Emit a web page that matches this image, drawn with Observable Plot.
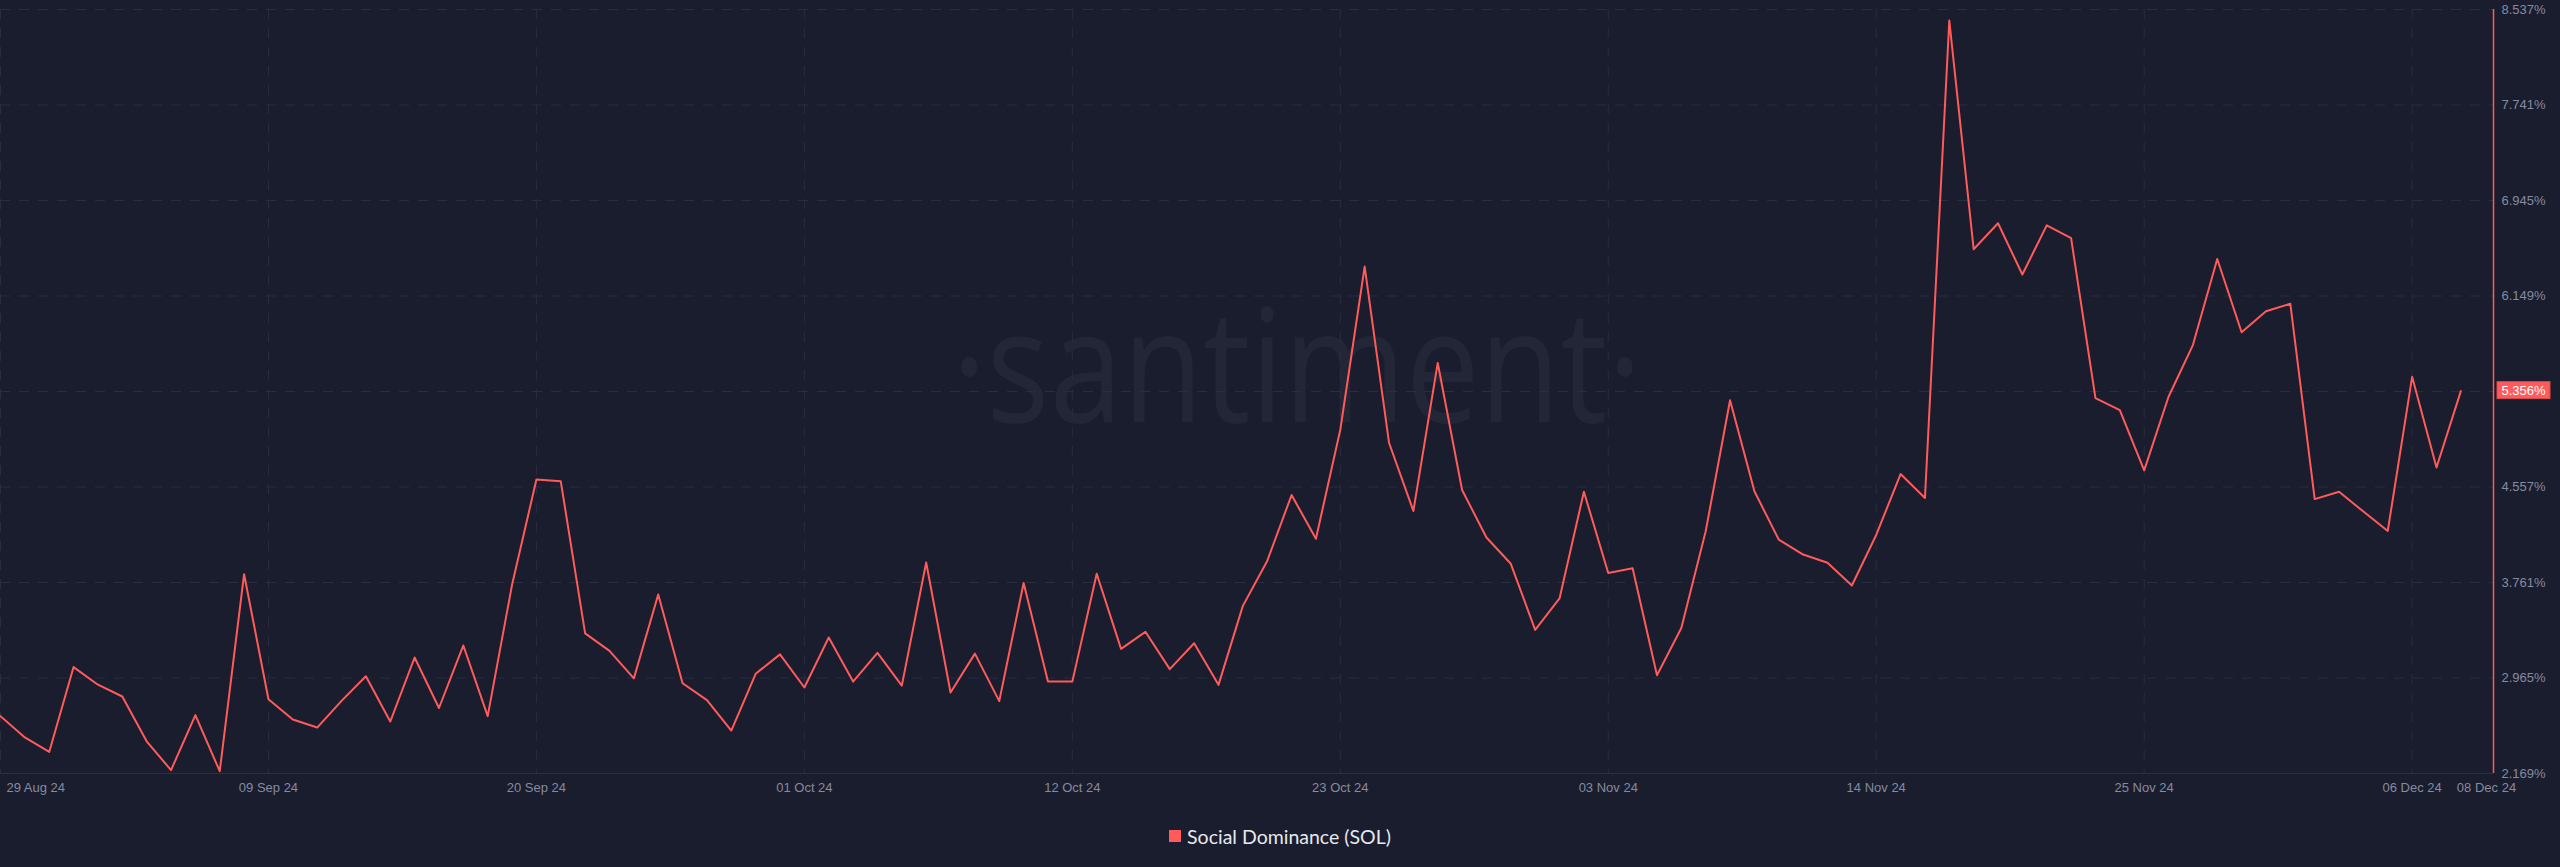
<!DOCTYPE html>
<html>
<head>
<meta charset="utf-8">
<script src="https://cdn.jsdelivr.net/npm/d3@7"></script>
<script src="https://cdn.jsdelivr.net/npm/@observablehq/plot@0.6"></script>
<style>
  html, body { margin: 0; padding: 0; background: #1a1d2d; }
  #chart { width: 2560px; height: 805px; }
  #legend { width: 2560px; height: 62px; display: flex; align-items: center; justify-content: center; gap: 6px;
            font-family: Lato, "Open Sans", sans-serif; font-size: 19.5px; color: #e6e8ef; }
  #legend .sw { width: 12px; height: 12px; background: #ff5b5b; }
</style>
</head>
<body>
<div id="chart"></div>
<div id="legend"><span class="sw"></span><span id="legend-text"></span></div>
<script>
// ---- data ----
const startDate = "2024-08-29";
const values = [
  2.647, 2.470, 2.349, 3.056, 2.909, 2.811, 2.437, 2.197, 2.656, 2.188,
  3.830, 2.788, 2.619, 2.552, 2.774, 2.980, 2.602, 3.136, 2.715, 3.236,
  2.647, 3.742, 4.619, 4.604, 3.337, 3.191, 2.962, 3.661, 2.921, 2.780,
  2.527, 3.000, 3.162, 2.886, 3.303, 2.935, 3.174, 2.901, 3.928, 2.844,
  3.168, 2.772, 3.757, 2.935, 2.935, 3.834, 3.208, 3.350, 3.039, 3.255,
  2.908, 3.566, 3.941, 4.490, 4.126, 5.034, 6.394, 4.926, 4.357, 5.591,
  4.532, 4.136, 3.917, 3.366, 3.628, 4.517, 3.840, 3.880, 2.988, 3.382,
  4.188, 5.280, 4.521, 4.118, 3.994, 3.926, 3.736, 4.157, 4.665, 4.465,
  8.445, 6.539, 6.755, 6.328, 6.738, 6.631, 5.297, 5.197, 4.696, 5.309,
  5.740, 6.457, 5.847, 6.022, 6.084, 4.456, 4.518, 4.352, 4.191, 5.475,
  4.719, 5.356
];
const xTickDates = ["2024-08-29","2024-09-09","2024-09-20","2024-10-01","2024-10-12",
                    "2024-10-23","2024-11-03","2024-11-14","2024-11-25","2024-12-06","2024-12-08"];
const xTickLabels = ["29 Aug 24","09 Sep 24","20 Sep 24","01 Oct 24","12 Oct 24",
                     "23 Oct 24","03 Nov 24","14 Nov 24","25 Nov 24","06 Dec 24","08 Dec 24"];
const yTicks = [2.169, 2.965, 3.761, 4.557, 5.353, 6.149, 6.945, 7.741, 8.537];
const lastValueLabel = "5.356%";
const seriesName = "Social Dominance (SOL)";
const watermark = "·santiment·";

// ---- build ----
const DAY = 864e5;
const t0 = Date.parse(startDate);
const data = values.map((v, i) => ({date: new Date(t0 + i * DAY), value: v}));
const tickDates = xTickDates.map(d => new Date(Date.parse(d)));
const labelOf = new Map(tickDates.map((d, i) => [+d, xTickLabels[i]]));
const gridDates = tickDates.slice(0, tickDates.length - 1);
const midDates = tickDates.slice(1, tickDates.length - 1);
const firstDate = tickDates[0];
const lastDate = tickDates[tickDates.length - 1];
const xEnd = new Date(t0 + 102.34 * DAY);

const RED = "#ff5b5b";
const GRID = "#292d40";
const TXT = "#858ba0";

const plot = Plot.plot({
  width: 2560,
  height: 805,
  marginLeft: 0,
  marginRight: 67,
  marginTop: 9,
  marginBottom: 32,
  style: {background: "#1a1d2d", color: TXT, fontFamily: "'Liberation Sans', Arial, sans-serif", fontSize: "13px", overflow: "visible"},
  x: {type: "utc", domain: [new Date(t0), xEnd]},
  y: {domain: [yTicks[0], yTicks[yTicks.length - 1]]},
  marks: [
    Plot.text([watermark], {frameAnchor: "middle", text: d => d, dx: 50, dy: -20, fontSize: 157,
      fontFamily: "'Open Sans', sans-serif", fill: "#222637"}),
    Plot.gridY(yTicks, {stroke: GRID, strokeOpacity: 1, strokeDasharray: "10,9"}),
    Plot.gridX(gridDates, {stroke: GRID, strokeOpacity: 1, strokeDasharray: "10,9"}),
    Plot.ruleY([yTicks[0]], {stroke: "#2b3044", strokeWidth: 1}),
    Plot.ruleX([xEnd], {stroke: RED, strokeWidth: 1.5}),
    Plot.line(data, {x: "date", y: "value", stroke: RED, strokeWidth: 2}),
    Plot.axisY({ticks: yTicks.filter(t => t !== 5.353), anchor: "right", tickSize: 0, tickPadding: 8,
      tickFormat: d => d.toFixed(3) + "%", fontSize: 13, label: null}),
    Plot.axisX({ticks: midDates, tickSize: 0, tickPadding: 9, tickFormat: d => labelOf.get(+d), fontSize: 13, label: null}),
    Plot.text([firstDate], {x: d => d, text: d => labelOf.get(+d), frameAnchor: "bottom", lineAnchor: "top",
      dy: 9, dx: 6, textAnchor: "start", fill: TXT, fontSize: 13}),
    Plot.text([lastDate], {x: d => d, text: d => labelOf.get(+d), frameAnchor: "bottom", lineAnchor: "top",
      dy: 9, dx: -4, textAnchor: "start", fill: TXT, fontSize: 13}),
    (index, scales, vals, dims) => {
      const y = scales.y(values[values.length - 1]);
      const x = dims.width - dims.marginRight + 4;
      const g = d3.create("svg:g");
      g.append("rect").attr("x", x).attr("y", y - 9).attr("width", 53).attr("height", 17)
        .attr("fill", RED).attr("stroke", "#d94a4a").attr("stroke-width", 1);
      g.append("text").attr("x", x + 4.5).attr("y", y).attr("dy", "0.35em").attr("fill", "#ffffff")
        .attr("text-anchor", "start").attr("font-size", 13).text(lastValueLabel);
      return g.node();
    }
  ]
});
document.getElementById("chart").appendChild(plot);
for (const t of plot.querySelectorAll("text")) {
  if (t.textContent === watermark) {
    t.setAttribute("textLength", 690);
    t.setAttribute("lengthAdjust", "spacingAndGlyphs");
  }
}
document.getElementById("legend-text").textContent = seriesName;
</script>
</body>
</html>
